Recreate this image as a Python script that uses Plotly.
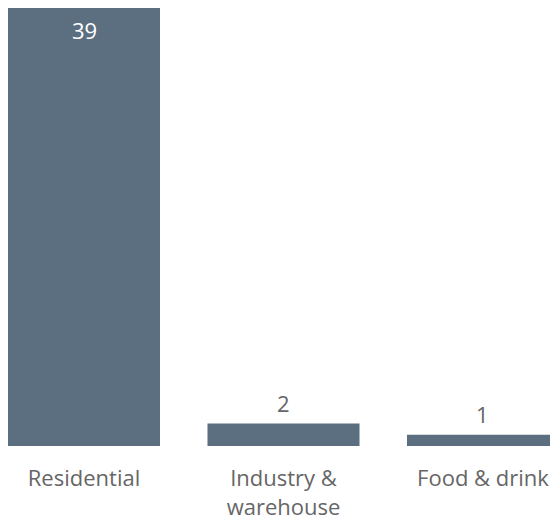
import plotly.graph_objects as go

categories = ["Residential", "Industry &<br>warehouse", "Food & drink"]
values = [39, 2, 1]

BAR = "#5b6f81"
TXT = "#666666"
FONT = "Open Sans"

fig = go.Figure(go.Bar(x=list(range(len(categories))), y=values, width=0.762,
                       marker=dict(color=BAR, line=dict(width=0)), hoverinfo="skip"))

for i, v in enumerate(values):
    inside = v == max(values)
    fig.add_annotation(x=i, y=v, xref="x", yref="y", text=str(v), showarrow=False,
                       yanchor="top" if inside else "bottom",
                       yshift=-5 if inside else 4,
                       font=dict(family=FONT, size=22, color="white" if inside else TXT))

fig.update_layout(
    width=550, height=514,
    margin=dict(l=0, r=0, t=0, b=76),
    paper_bgcolor="white", plot_bgcolor="white",
    showlegend=False,
    font=dict(family=FONT, color=TXT),
    xaxis=dict(range=[-0.381, 2.376], tickmode="array", tickvals=list(range(len(categories))),
               ticktext=categories, showgrid=False, zeroline=False, showline=False,
               ticks="", tickfont=dict(family=FONT, size=22, color=TXT), ticklabelstandoff=17),
    yaxis=dict(range=[0, 39], visible=False, showgrid=False, zeroline=False),
)

fig.write_html("out.html")
